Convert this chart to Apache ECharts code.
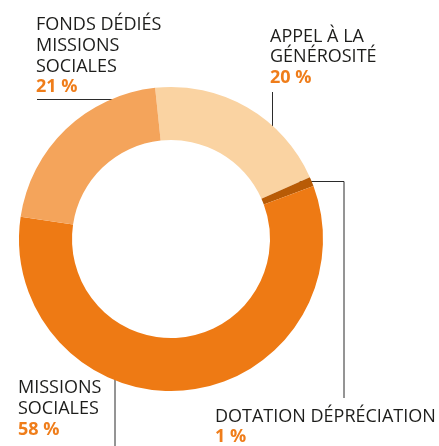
<!DOCTYPE html>
<html>
<head>
<meta charset="utf-8">
<script src="https://cdn.jsdelivr.net/npm/echarts@6/dist/echarts.min.js"></script>
<style>
html,body{margin:0;padding:0;background:#fff;}
#chart{width:439px;height:446px;}
</style>
</head>
<body>
<div id="chart"></div>
<script>
// Data
const categories = ['APPEL À LA\nGÉNÉROSITÉ', 'DOTATION DÉPRÉCIATION', 'MISSIONS\nSOCIALES', 'FONDS DÉDIÉS\nMISSIONS\nSOCIALES'];
const values = [20, 1, 58, 21];
const colors = ['#FAD3A2', '#B85B06', '#EE7A14', '#F4A45B'];

// Label placement (layout only)
const labelPos = [
  { x: 270, y: 26, line: [[272.5, 145], [272.5, 145], [272.5, 92]] },
  { x: 215, y: 406, line: [[296.5, 181.5], [344, 181.5], [344, 398]] },
  { x: 18, y: 377.5, line: [[115, 342], [115, 342], [115, 446]] },
  { x: 36, y: 14.5, line: [[133, 99.5], [133, 99.5], [37, 99.5]] }
];

const chart = echarts.init(document.getElementById('chart'), null, { renderer: 'canvas' });
chart.setOption({
  animation: false,
  backgroundColor: '#ffffff',
  series: [{
    type: 'pie',
    center: [171, 239],
    radius: [99, 152],
    startAngle: 96,
    clockwise: true,
    avoidLabelOverlap: false,
    silent: true,
    data: categories.map((c, i) => ({ name: c, value: values[i], itemStyle: { color: colors[i] } })),
    label: {
      show: true,
      position: 'outside',
      formatter: p => '{n|' + p.name + '}\n{p|' + p.value + ' %}',
      rich: {
        n: { fontFamily: 'Open Sans', fontSize: 18, lineHeight: 20.8, color: '#1d1d1b' },
        p: { fontFamily: 'Open Sans', fontSize: 18, lineHeight: 20.8, color: '#EF7D1A', fontWeight: 'bold' }
      }
    },
    labelLine: {
      show: true,
      length: 10,
      length2: 10,
      lineStyle: { color: '#2b2b2b', width: 1 }
    },
    labelLayout: function (params) {
      const lp = labelPos[params.dataIndex];
      return {
        x: lp.x,
        y: lp.y,
        align: 'left',
        verticalAlign: 'top',
        labelLinePoints: lp.line
      };
    }
  }]
});
</script>
</body>
</html>
